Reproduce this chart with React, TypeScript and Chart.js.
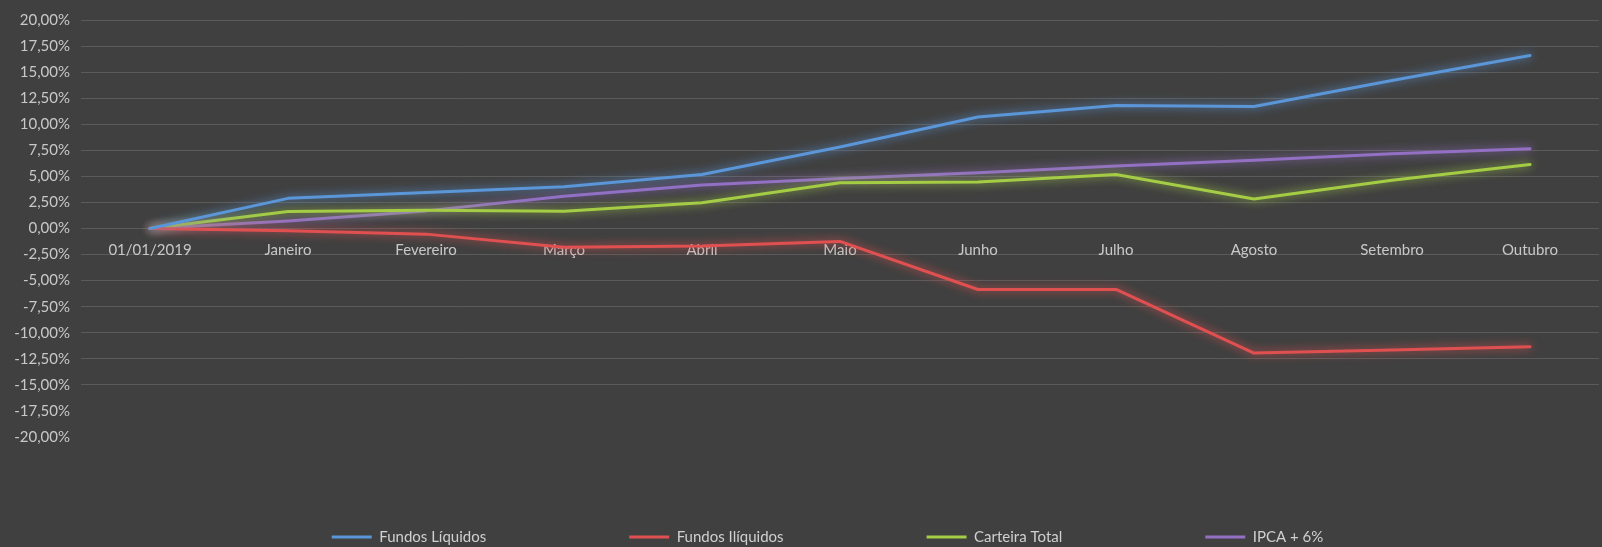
import React, { useEffect, useRef } from 'react';
import { Chart, registerables } from 'chart.js';

Chart.register(...registerables);

const categories = ['01/01/2019', 'Janeiro', 'Fevereiro', 'Março', 'Abril', 'Maio', 'Junho', 'Julho', 'Agosto', 'Setembro', 'Outubro'];
const fundosLiquidos = [0, 2.89, 3.46, 4.0, 5.18, 7.82, 10.7, 11.8, 11.7, 14.2, 16.6];
const fundosIliquidos = [0, -0.22, -0.54, -1.8, -1.69, -1.24, -5.85, -5.85, -11.95, -11.66, -11.35];
const carteiraTotal = [0, 1.62, 1.75, 1.65, 2.48, 4.39, 4.45, 5.18, 2.83, 4.62, 6.13];
const ipcaMais6 = [0, 0.73, 1.69, 3.1, 4.17, 4.8, 5.34, 6.0, 6.55, 7.18, 7.66];
const seriesNames = ['Fundos Líquidos', 'Fundos Ilíquidos', 'Carteira Total', 'IPCA + 6%'];
const seriesColors = ['#5b96d8', '#e05050', '#a4cc45', '#9370c4'];
const yMin = -20;
const yMax = 20;
const yStep = 2.5;

const FONT = 'Lato, "Open Sans", sans-serif';
const BG = '#404040';
const LEGEND_FONT = 15;
const LEGEND_GAP = 143;
const LEGEND_CENTER_Y = 537;
const LEGEND_SHIFT_X = 28;

const glowPlugin = {
  id: 'glow',
  beforeDatasetDraw(chart: any, args: any) {
    const ctx = chart.ctx;
    const ds = chart.data.datasets[args.index];
    ctx.save();
    ctx.shadowColor = ds.borderColor;
    ctx.shadowBlur = 10;
  },
  afterDatasetDraw(chart: any) {
    chart.ctx.restore();
  },
};

// Keeps the legend's wide item spacing while placing its row near the bottom edge.
const legendPlacePlugin = {
  id: 'legendPlace',
  afterLayout(chart: any) {
    const lg = chart.legend;
    if (!lg) return;
    lg.top = LEGEND_CENTER_Y - LEGEND_FONT / 2 - LEGEND_GAP;
    lg.bottom = chart.height;
    lg.height = lg.bottom - lg.top;
    lg.left += LEGEND_SHIFT_X;
    lg.right += LEGEND_SHIFT_X;
  },
};

export default function App() {
  const ref = useRef<HTMLCanvasElement | null>(null);

  useEffect(() => {
    document.body.style.margin = '0';
    document.body.style.background = BG;
    const canvas = ref.current;
    if (!canvas) return;
    const seriesData = [fundosLiquidos, fundosIliquidos, carteiraTotal, ipcaMais6];
    const chart = new Chart(canvas, {
      type: 'line',
      data: {
        labels: categories,
        datasets: seriesNames.map((name, i) => ({
          label: name,
          data: seriesData[i],
          borderColor: seriesColors[i],
          backgroundColor: seriesColors[i],
          borderWidth: 3,
          pointRadius: 0,
          pointHoverRadius: 0,
          tension: 0,
          fill: false,
          borderJoinStyle: 'round',
          borderCapStyle: 'round',
        })),
      },
      options: {
        responsive: false,
        animation: false,
        devicePixelRatio: 1,
        layout: { padding: { top: 17, right: 3, bottom: 0, left: 0 } },
        scales: {
          x: {
            type: 'category',
            position: { y: 0 } as any,
            offset: true,
            grid: { display: false, drawTicks: false },
            border: { display: false },
            ticks: {
              color: '#c8c8c8',
              font: { family: FONT, size: 15 },
              padding: 13,
              maxRotation: 0,
              autoSkip: false,
            },
          },
          y: {
            type: 'linear',
            min: yMin,
            max: yMax,
            afterFit(scale: any) {
              scale.width = 81;
            },
            grid: {
              drawTicks: false,
              lineWidth: 1,
              color: (ctx: any) => (ctx.tick && ctx.tick.value < -15 ? 'rgba(0,0,0,0)' : '#5b5b5b'),
            },
            border: { display: false },
            ticks: {
              stepSize: yStep,
              padding: 11,
              color: '#c8c8c8',
              font: { family: FONT, size: 15 },
              callback: (v: any) => Number(v).toFixed(2).replace('.', ',') + '%',
            },
          },
        },
        plugins: {
          legend: {
            position: 'bottom',
            maxHeight: 110,
            labels: {
              usePointStyle: true,
              pointStyle: 'line',
              pointStyleWidth: 40,
              padding: LEGEND_GAP,
              color: '#d0d0d0',
              font: { family: FONT, size: LEGEND_FONT },
            },
          } as any,
          tooltip: { enabled: false },
        },
      } as any,
      plugins: [glowPlugin, legendPlacePlugin],
    });
    return () => chart.destroy();
  }, []);

  return (
    <div style={{ position: 'absolute', left: 0, top: 0, width: 1602, height: 547, background: BG }}>
      <canvas ref={ref} width={1602} height={547} style={{ width: 1602, height: 547, display: 'block' }} />
    </div>
  );
}
